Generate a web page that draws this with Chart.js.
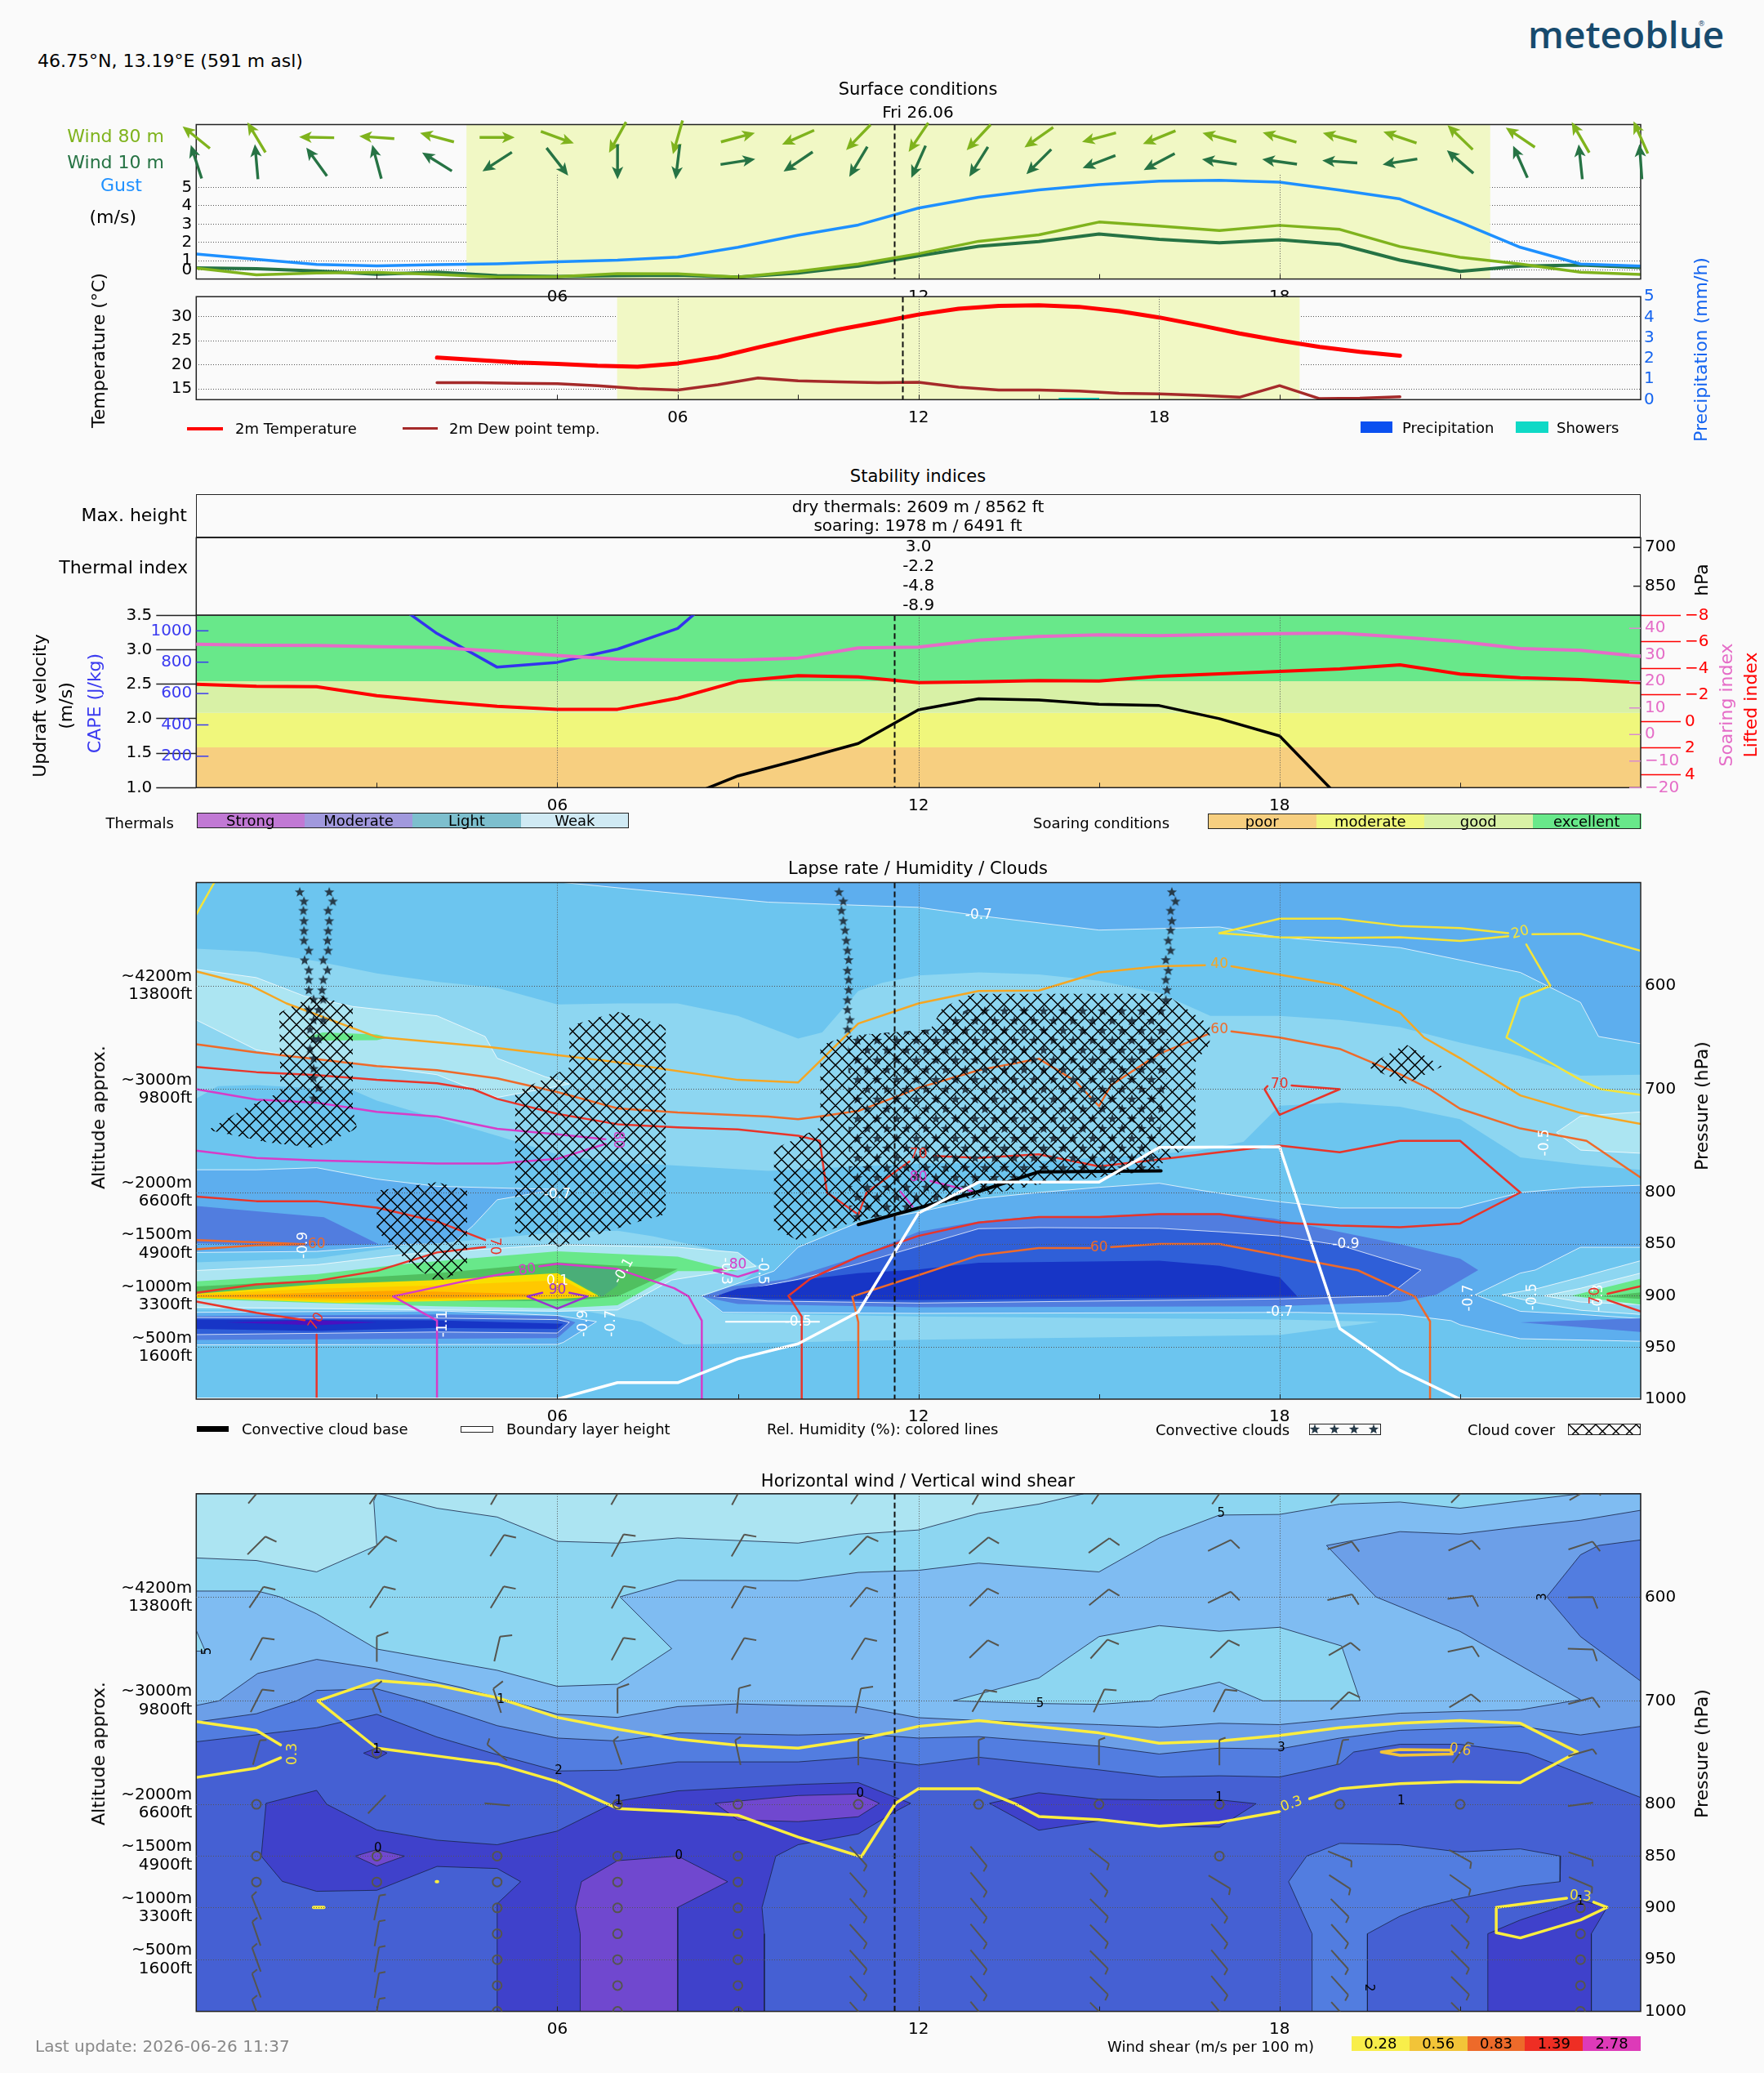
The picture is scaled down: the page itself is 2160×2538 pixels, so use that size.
<!DOCTYPE html>
<html>
<head>
<meta charset="utf-8">
<title>meteoblue</title>
<script src="https://cdn.jsdelivr.net/npm/chart.js@4/dist/chart.umd.min.js"></script>
<style>
  html, body { margin: 0; padding: 0; background: #fafafa; }
  #page { position: relative; width: 2160px; height: 2538px; overflow: hidden; font-family: "DejaVu Sans", sans-serif; }
  #page canvas { position: absolute; left: 0; }
  .txt { position: absolute; white-space: pre; line-height: 1; color: #000; }
  .box { position: absolute; box-sizing: border-box; }
</style>
</head>
<body>
<div id="page"></div>
<script>
// ---- time axis
const hours = [0,1,2,3,4,5,6,7,8,9,10,11,12,13,14,15,16,17,18,19,20,21,22,23,24];
const hourLabels = ['06','12','18'];
const hourValues = [6,12,18];
const hourMarks = [3,6,9,12,15,18,21];
const nowHour = 11.6;
const dayStart = 4.49, dayEnd = 21.5;

// ---- surface conditions
const gust = [1.36,1.07,0.8,0.72,0.78,0.83,0.94,1.03,1.2,1.73,2.39,2.95,3.87,4.46,4.86,5.15,5.34,5.39,5.29,4.85,4.37,3.1,1.73,0.82,0.71];
const wind80 = [0.6,0.23,0.33,0.36,0.25,0.1,0.13,0.29,0.28,0.1,0.42,0.82,1.38,2.06,2.41,3.11,2.89,2.65,2.93,2.71,1.77,1.19,0.82,0.37,0.25];
const wind10 = [0.61,0.56,0.44,0.26,0.37,0.18,0.14,0.18,0.21,0.1,0.33,0.71,1.26,1.79,2.04,2.46,2.17,1.98,2.14,1.89,1.03,0.42,0.71,0.76,0.63];
const wind80Angle = [141,121,179,176,165,0,-20,-119,-106,15,-156,-134,-124,-133,-145,-165,-158,165,164,165,161,136,146,120,114];
const wind10Angle = [108,95,126,105,148,-147,-52,-90,-97,9,-146,-121,-114,-122,-135,-159,-152,172,172,176,-171,139,114,96,94];
const speedTicks = [1,2,3,4,5];
const temperature = [21.5,21,20.5,20.2,19.8,19.6,20.3,21.6,23.6,25.5,27.3,28.8,30.4,31.6,32.2,32.3,32,31.1,29.8,28.2,26.5,25,23.7,22.7,21.9];
const dewPoint = [16.3,16.3,16.2,16.1,15.7,15.1,14.8,15.9,17.3,16.7,16.5,16.3,16.4,15.4,14.8,14.8,14.6,14.1,14,13.7,13.3,15.7,13,13.1,13.4];
const showers = [0,0,0,0,0,0,0,0,0,0,0,0,0,0,0,0,0.08,0,0,0,0,0,0,0,0];
const temperatureTicks = [15,20,25,30];
const precipTicks = [0,1,2,3,4,5];

// ---- stability indices
const thermalValues = ['3.0','-2.2','-4.8','-8.9'];
const thermalLevels = ['700','800','850','900'];
const soaringBandEdges = [1,1.584,2.085,2.544,3.5];
const soaringBandColors = ['#f7cf80','#f0f77c','#d8f1a6','#68e88a'];
const updraft = [null,null,null,null,null,null,null,null,0.82,1.17,1.4,1.64,2.13,2.29,2.27,2.21,2.19,2,1.75,0.85,null,null,null,null,null];
const cape = [null,null,null,1258,983,768,799,883,1015,1348,null,null,null,null,null,null,null,null,null,null,null,null,null,null,null];
const soaringIndex = [34,33.6,33.5,33.1,32.8,31.4,29.8,28.4,28.1,28,28.8,32.6,32.9,35.5,36.9,37.5,37.2,37.7,38,38.2,36.7,35,32.4,31.7,29.4];
const liftedIndex = [-2.81,-2.65,-2.62,-1.94,-1.51,-1.14,-0.92,-0.92,-1.76,-3.03,-3.45,-3.36,-2.93,-2.99,-3.08,-3.05,-3.4,-3.59,-3.77,-3.96,-4.27,-3.57,-3.3,-3.16,-2.93];
const updraftTicks = [1,1.5,2,2.5,3,3.5];
const capeTicks = [200,400,600,800,1000];
const soaringTicks = [-20,-10,0,10,20,30,40];
const liftedTicks = [-8,-6,-4,-2,0,2,4];

// ---- pressure axes shared by the two lower panels
const pressureTicks = [600,700,800,850,900,950,1000];
const altitudeTicks = [600,700,800,850,900,950];
const altitudeLabels = [['~4200m','13800ft'],['~3000m','9800ft'],['~2000m','6600ft'],['~1500m','4900ft'],['~1000m','3300ft'],['~500m','1600ft']];

// ---- lapse rate shading, [hour, hPa]
const lapseTopRight = [[6.1,500],[9.5,519],[12,524],[13,532],[15,546],[17,543],[18,553],[20,563],[22,587],[23,616],[23.3,649],[24,656],[24,500]];
const lapseMidLight = [[0,564],[1,567],[2,576],[3,588],[4,596],[5,602],[6,618],[7,617],[8,617],[9,629],[10,651],[10.4,645],[11,605],[11.4,597],[12,590],[13,587],[14,589],[15,595],[16,607],[16.85,629],[18,629],[19,633],[20,640],[21,655],[22,668],[23,687],[24,686],[24,778],[23,773],[22,766],[21,729],[20,717],[19,713],[18,716],[17.4,751],[16.6,760],[14,770],[12,772],[9.5,779],[6.8,770],[6,763],[5,745],[4,728],[3,711],[2.6,701],[1,696],[0.36,697],[0,709]];
const lapsePaleLeft = [[0,584],[1,592],[1.8,610],[2.6,620],[4,629],[4.8,649],[5,670],[5.8,688],[6.2,695],[5,708],[4.6,700],[4,686],[2.6,675],[1.8,670],[1,662],[0,633]];
const lapsePaleRight = [[24,722],[23,726],[22.6,742],[23,759],[24,762]];
const lapseGreenPatch = [[1.82,650],[2.1,645],[3,647],[3.2,650],[3,652.6],[2.1,653]];
const lapseLeftBlue = [[0,778],[1,778],[2,776],[3,787],[4,794],[5.3,796],[6,797],[5,807],[4.6,832],[4.25,850],[3.6,850],[2,857],[0,858]];
const lapseLeftDeep = [[0,813],[2.12,824],[3.03,850],[1.7,852],[0,849]];
const lapseLensMid = [[0,867.5],[2,863.6],[3.3,853],[6,838.5],[7,837],[7.6,842.5],[8.5,854],[9.4,872],[9,889],[8.4,900],[8.75,917],[12,920],[18,923],[19.65,925],[18,938],[12,942.5],[8.1,947],[7.4,925],[6.4,914],[0,913]];
const lapseLensPale = [[0,875.5],[2,870],[3.5,859.6],[6,850.4],[8,853],[9,858],[9.3,871.5],[7.9,884.7],[7,913.7],[6,915],[4,913.7],[0,911]];
const lapseGreenOuter = [[0,886],[2,879],[3.5,869],[4.5,864],[6,857],[8,862],[8.6,871],[9,876],[8,876],[7,909],[6,912],[4,910],[2,907],[0,903]];
const lapseGreenInner = [[0,891],[2,885],[4,878],[6,867.5],[8,874],[7,900.5],[6.2,905],[4,905],[2,904],[0,900]];
const lapseTeal = [[6,870],[7,874],[7,890],[6.75,900.5],[6.05,879]];
const lapseYellow = [[0,898],[2,889],[4,884.7],[6,878],[6.7,900.5],[6,903],[2.4,907],[0,902]];
const lapseAmber = [[0,898.5],[2,893],[4,890],[6,885],[6.2,888],[6.6,900],[6,902],[2.4,905],[0,901.5]];
const lapseOrange = [[0,900],[3.3,895],[5.5,898],[5.8,900.5],[3,903],[0,901]];
const lapseLowBlue = [[0,916],[4,914.5],[6,919],[6.65,925],[6.1,945],[6,947],[0,947.5]];
const lapseLowDeep = [[0,919.5],[4,918],[6,919.5],[6.3,925.6],[6,941],[0,942.7]];
const lapseLowRoyal = [[0,921],[4,921.6],[6,923],[6.2,925.6],[6,936],[4,935],[0,937.5]];
const lapseLowNavy = [[0,923],[4,923.7],[6.1,927],[6,932],[4,931],[2,934],[0,932]];
const lapseLowViolet = [[0.5,925.6],[2,923.7],[3,925.6],[2,928.5]];
const lapseMainBlue = [[8.4,900],[9.6,876],[10,853],[11,829],[12,819],[13,806],[14,800],[15,795],[16,791],[16.7,798],[17.6,806],[18,809],[19,815],[21,815],[22,800],[23,795],[24,793],[24,853],[23,853],[22.25,875],[22,878],[21.25,899],[22,915],[23,918],[24,922],[24,944],[22,941.5],[21,928],[20.85,924],[20,918],[18.3,916],[12,917],[8.75,916]];
const lapseMainDeep = [[8.4,900.7],[8.9,891],[9.8,884],[11,862],[12,838],[13,828],[14,823],[15,823],[16,820],[17,820],[17.9,825],[18.9,837],[20,850],[21,864],[21.3,875],[20.6,899],[20,906],[17.9,910],[12,911],[9,908]];
const lapseMainRoyal = [[8.6,900.7],[9,895],[10,884],[11,869],[12,852],[13,835],[14,834],[16,834.6],[17,838],[18,842],[19,851],[20.35,875],[19.8,900],[18,903],[12,907],[9.5,905]];
const lapseMainNavy = [[8.6,900.7],[9,893],[9.5,890],[10,885],[11,878],[12,874.5],[13,868],[16,866],[17,871],[18,882],[18.3,900.7],[12,904],[9.5,903]];
const lapseTipMid = [[24,866],[23,882],[22.3,892.7],[21.7,899],[22.3,907],[23,914],[24,918]];
const lapseTipPale = [[24,878],[23,892.7],[22.4,900],[23,906],[24,908.5]];
const lapseTipGreen = [[24,883.4],[22.85,900],[24,908.5]];
const lapseTipGreenInner = [[24,896.7],[23.35,900.7],[24,903]];
const lapseStripDeep = [[22,925.7],[24,921.7],[24,935]];

// ---- cloud regions, [hour, hPa]
const cloudPatchA = [[2,608],[2.6,621],[2.6,719],[2.67,738],[2,757],[1.2,751.6],[0.2,739.6],[0.8,718.6],[1.4,702.8],[1.38,626]];
const cloudPatchB = [[7,625],[7.8,639],[7.8,821],[7.3,829],[6,853],[5.3,838],[5.3,703],[6.2,679],[6.2,639]];
const cloudPatchC = [[4,790],[4.5,798],[4.5,874],[4,887],[3.5,866],[3,837],[3,798],[3.45,795]];
const cloudPatchD = [[10.37,658],[10.8,648.6],[12.2,642],[12.4,621],[12.9,607.7],[16.1,607.7],[16.84,638],[16.84,656.5],[16.6,673.7],[16.6,750],[15.87,779],[14,792],[11,827],[10,846.5],[9.6,834.6],[9.6,758],[10.37,737]];
const cloudPatchE = [[20.1,656.5],[20.7,678],[20.1,694.6],[19.44,678]];
const convectiveBlock = [[12.9,620],[16.15,620],[16.15,680],[16,750],[16,778],[14,778],[13,797],[11,829],[10.85,829],[10.83,648],[12.2,642]];
const convectiveStars = [
  [1.72,509],[1.79,518],[1.78,527],[1.79,537],[1.79,546.6],[1.79,556],[1.87,565.6],[1.8,575],[1.87,584.6],[1.87,594],[1.87,604],[1.95,613],[1.87,623],[1.95,633],[1.89,642],[1.95,651.3],[1.89,660.6],[1.95,670],[1.95,680],[1.95,689],[2.03,698.8],[1.95,708.6],
  [2.21,509],[2.27,518],[2.19,527],[2.21,537],[2.19,546.6],[2.18,556],[2.19,565.6],[2.11,575],[2.18,584.6],[2.11,594],[2.09,604],[2.11,613],[2.03,623],[2.11,633],[2.03,651.3],
  [10.68,509],[10.75,518],[10.72,527],[10.75,537],[10.78,546],[10.8,556],[10.82,565.6],[10.84,574.7],[10.82,585],[10.84,594],[10.84,603.8],[10.82,613.6],[10.82,623],[10.86,632.8],[10.82,642],
  [16.21,509],[16.27,518],[16.19,527],[16.21,537],[16.19,546],[16.15,556],[16.19,565.6],[16.11,574.7],[16.15,585],[16.11,594],[16.13,603.8],[16.11,613.6]
];

// ---- relative humidity contours, [hour, hPa]
const rh20a = [[0,531],[0.3,500]];
const rh20b = [[17,549],[18,535],[19,535],[20,542],[21,544],[21.8,549]];
const rh20c = [[21.8,552],[21,556.5],[20,553],[19,553.6],[18,553],[17,549]];
const rh20d = [[22.2,550],[23,549.6],[24,566]];
const rh20e = [[22.1,560],[22.5,600],[22,611.8],[21.77,650],[23,691],[23.34,700],[24,705.5]];
const rh40a = [[0,586],[0.88,599],[1.5,617],[3,649.5],[4.85,659],[7,674],[9,691],[10,693.5],[11,636.5],[12,617],[13,605],[14,604.5],[15,587],[16,581],[16.76,580]];
const rh40b = [[17.2,581],[19,599.4],[20,626],[20.4,650],[21,670],[22,706],[23,723],[24,733.6]];
const rh50a = [[0,656.6],[1,664.5],[2,671],[3,677.7],[4,681.6],[5,689.6],[6,702.8],[7,718.6],[8,722.6],[9.5,726.5],[10,729],[10.4,726],[11,721],[11.6,708],[12,698.7],[13,681.6],[14,670.5],[14.6,692],[15,716.4],[15.2,696],[16,665.7],[16.8,647]];
const rh50b = [[17.2,644],[18,650],[19,661],[20,685.5],[20.5,700],[21,719],[22,738],[23.1,750],[24,785.5]];
const rh50c = [[0,846],[1.8,850],[1,851],[0,855]];
const rh50d = [[11,1000],[11,925.4],[10.9,900.7],[12,880],[13,860.8],[14,853.8],[14.85,853.8]];
const rh50e = [[15.2,852.8],[16,849.8],[17,849.8],[18,860.8],[19.3,875.3],[20.25,900.7],[20.5,924.7],[20.5,1000]];
const rh70a = [[0,678.5],[1,683.5],[2,686.4],[3,691],[4,694.3],[4.6,700],[5,709.4],[6,723.9],[7,733.9],[8,737],[9,739],[10,745],[10.36,750],[10.48,800],[11,821.4],[11.14,800],[11.85,770]];
const rh70b = [[12.25,764.7],[13,766.5],[14,763],[15,774.7],[16,768],[17.6,757],[18,754.6],[19,761],[20,750],[21,750],[22,800],[21,830],[20,833.5],[19,832],[18,829],[17,821],[16,821],[15,823.7],[14,823.7],[13,829],[12,842],[11,862],[10.2,883.6],[9.84,900],[10.06,920],[10.06,1000]];
const rh70c = [[0,804],[1,808.4],[2,808.4],[3,814.6],[4,828],[4.8,846]];
const rh70d = [[4.8,852.8],[4,858],[3,876],[2,885.5],[1,889],[0,897]];
const rh70e = [[0,905.5],[1,916.4],[1.8,923.6]];
const rh70f = [[2,937.5],[2,1000]];
const rh70g = [[18.2,696.4],[19,700],[18,724.8],[17.75,700],[17.8,697]];
const rh70h = [[23.45,898],[24,890.6]];
const rh70i = [[23.45,904],[24,915]];
const rh80a = [[0,700],[1,710],[2,713],[3,722],[4,726.5],[5,738.4],[6,743.6],[6.8,748.4]];
const rh80b = [[6.8,753],[6,767.4],[5,772],[4,772],[2,769],[1,766.6],[0,759.5]];
const rh80c = [[5.27,876.8],[4.55,884.7],[3.27,900.5],[4,924],[4,1000]];
const rh80d = [[5.7,871.5],[6,868.9],[7,874],[7.94,892.6],[8.18,900.5],[8.4,924],[8.4,1000]];
const rh80e = [[8.8,874],[8.6,875.5],[9,881.5],[9.33,875.5]];
const rh80f = [[12.2,789],[12.9,799]];
const rh80g = [[11.7,799],[11.9,813.5]];
const rh90 = [[5.75,897],[5.5,900.5],[6,912.4],[6.5,900.5],[6.2,897]];
const boundaryLayer = [[0,1000],[6,1000],[7,984],[8,984],[9,961],[10,946.5],[11,915.6],[12,820],[13,790],[15,790],[16,756.4],[18,755.7],[19,931.6],[20,972],[21,1000],[24,1000]];
const cloudBase = [[11,831],[13,799],[14,780],[16.03,779]];
const lapseIsoline = [[8.8,925],[10.35,925]];

// ---- wind shear panel shading, [hour, hPa]
const windSpeedBandA = [[0,739.6],[2,726],[3,713],[4,735],[5,752],[6,767.8],[7,767],[8,759],[9,759],[10,759],[11,754.5],[12,762],[13,754.5],[15,766.7],[16,773.6],[17,772.4],[18,773.6],[19,761],[19.23,749.5],[20,742],[21,742],[22.12,750.7],[24,793.4],[24,500],[0,500]];
const windSpeedBandB = [[0,720.5],[1,712.5],[1.67,700],[2,690],[3,688.5],[3.73,700],[5,724],[6,736],[7,738.8],[8,731],[10,733],[11,731.7],[12,736],[13,734.6],[15,743.8],[16,751.4],[17,745.7],[18,746.5],[19,736],[20,728.5],[21,726.6],[22,724.7],[23,733],[24,724.7],[24,500],[0,500]];
const windSpeedBandC = [[0,704.5],[0.38,700],[1.02,673.6],[2,660],[3,669],[4.39,687],[6,713],[7,716],[8,705.6],[9,703],[10,704.5],[11,705.6],[12,716.3],[13,719],[15,723],[16,725.5],[17,721.7],[18,723],[20,712],[22,708.7],[23,698.8],[21,633],[19.6,599.6],[18.78,550],[20,536.6],[21,539],[22,532],[23,525.6],[24,516],[24,500],[0,500]];
const windSpeedCorner = [[24,544.6],[23.3,550],[23,559],[22.44,599.6],[23,638],[24,681]];
const windSpeedBandD = [[0,594],[1.02,594],[1.39,599.6],[2,616],[3,650],[5,670.5],[6,686],[7,684],[7.9,649.6],[7.04,599.6],[8,583.6],[10,584],[11,576],[12,574],[13,567],[15,575.5],[16,542.7],[17,520.6],[18,520],[19,510],[20,508],[21,514],[23,500],[0,500]];
const windSpeedWedge = [[0,632],[0.15,652],[0,652]];
const windSpeedIsland = [[12.58,700],[14,678],[15,638],[16,627.4],[17,632.8],[18,629],[19.03,647],[19.34,700],[17.72,700],[17,682],[16,695],[15.87,700],[15,703.4],[13.96,702.6]];
const windSpeedTopLeft = [[0,500],[0,562],[1,564.5],[2,575.5],[3,550],[2.95,507],[3,500]];
const windSpeedTopRight = [[3.05,500],[4,514],[5,522.5],[6,546],[7,547.7],[8,542.7],[10,547.7],[11,539],[12,535],[13,519],[14,510],[14.74,500]];
const windCalmMain = [[1.16,799],[2,786.5],[2.17,800],[3,824.7],[4,834.6],[5,839],[6,825.8],[7,797],[8,787],[10,780.8],[11,779],[11.62,793.4],[11.87,799],[11.62,806.8],[11,828.5],[10,839],[9.63,850],[9.4,899.5],[9.44,925],[9.44,1000],[5,1000],[5,896],[5.39,874.7],[5,862],[4,860],[3,883],[2,884],[1.43,874.4],[1.08,850]];
const windCalmMid = [[13.18,799],[14,788.8],[15,795],[16,795.7],[17,795.7],[17.61,799.4],[17,822],[16,821],[15,816],[14,825]];
const windCalmDot = [[2.78,750.5],[3,745.7],[3.17,750.5],[3,756]];
const windCalmRight = [[21.46,1000],[21.46,925],[22,911.7],[23,892.6],[23.44,899.5],[23.18,925],[23.18,1000]];
const windRiseRight = [[19,837.7],[20,839],[21,846],[22,843],[22.67,850],[22.66,874.7],[22,879],[21,890.7],[20.38,899.5],[20,908],[19.46,925],[19.46,1000],[18.54,1000],[18.54,925],[18.15,874.7],[18.45,850]];
const windStillA = [[8.62,799],[10,791.5],[11,790],[11.35,799],[11,812],[10,816.7],[9,815]];
const windStillB = [[2.64,850],[3,843.8],[3.46,850],[3,859.6]];
const windStillC = [[6.38,1000],[6.38,925],[6.3,899.5],[6.4,874.7],[7,854.4],[8,850],[8.83,874.7],[8,899.5],[8,1000]];

// ---- shear isolines, [hour, hPa]
const shearLeftUpper = [[0,720],[1,728.5],[1.4,742.6]];
const shearLeftLower = [[1.4,755],[1,765],[0,774]];
const shearUpper = [[2.02,700],[3,680.5],[4,685],[5,697],[6,716],[7,727.4],[8,737],[9,743],[10,745.7],[11,737],[11.62,729.7],[12,724.7],[13,719],[15,731],[16,741],[17,738.8],[18,733.5],[19,726],[20,721.7],[21,719],[22,721.7],[22.95,749.5],[22,779],[21,778],[20,780],[19,785],[18.5,794.5]];
const shearLower = [[18,807],[17,817.4],[16,821],[15,814.8],[14,811.7],[13.59,799],[13,785],[12,785],[11.62,799],[11.05,850.6],[10,831.6],[9,810.6],[8,806.8],[7,804],[6,778],[5,761],[4,753.3],[3,745.7],[2.02,700]];
const shearLoop = [[22.77,890.7],[21.6,899.5],[21.6,924],[22,929],[23,911.7],[23.44,899.5],[23.22,894.5]];
const shearStrong = [[19.69,749.5],[20,747],[20.84,747.6],[20.87,751.4],[20,752.6],[19.69,749.5]];
const shearDotA = [[1.95,899.5],[2.12,899.5]];
const shearDotB = [[3.99,874.7],[4.01,874.7]];

// ---- wind barbs: screen direction of each staff per level, null where calm
const barbHours = [1,3,5,7,9,11,13,15,17,19,21,23];
const barbLevels = [500,550,600,650,700,750,800,850,875,900,925,950,975,1000];
const barbSpeeds = [10,10,10,10,10,5,2,5,5,5,5,5,5,5];
const barbH1 = [50,45,56,62,63,74,null,null,null,112,109,110,110,110];
const barbH3 = [55,46,57,90,110,null,46,null,null,78,80,80,80,80];
const barbH5 = [60,57,59,77,108,141,175,null,null,null,null,null,null,null];
const barbH7 = [60,62,62,62,90,109,null,null,null,null,null,null,null,null];
const barbH9 = [62,60,60,60,85,102,null,null,null,null,null,null,null,null];
const barbH11 = [55,46,50,58,78,90,null,-48,-48,-48,-48,-48,-48,-48];
const barbH13 = [60,40,44,44,60,90,null,-50,-50,-50,-50,-50,-50,-50];
const barbH15 = [55,35,39,48,65,90,null,-38,-47,-45,-45,-45,-45,-45];
const barbH17 = [55,26,26,44,63,90,null,null,-31,-50,-50,-50,-50,-50];
const barbH19 = [45,17,13,30,44,77,null,-22,-33,-45,-48,-48,-48,-48];
const barbH21 = [45,23,7,12,31,54,null,-29,-35,-45,-45,-45,-45,-45];
const barbH23 = [30,18,1,-2,15,16,8,-18,-23,null,null,null,null,null];
const barbColumns = [barbH1,barbH3,barbH5,barbH7,barbH9,barbH11,barbH13,barbH15,barbH17,barbH19,barbH21,barbH23];

// ---- contour labels: hour, hPa, text
const lapseWhiteLabels = [[1.78,851,'-0.9',-90],[4.1,927,'-1.1',-90],[6,885.5,'0.1',0],[7.1,876,'-0.1',-60],[6.43,926.6,'-0.9',-90],[6.9,926.6,'-0.7',-90],[8.8,876,'-0.3',90],[9.4,876,'-0.5',90],[10,925,'-0.5',0],[6,802,'-0.7',0],[13,532,'-0.7',0],[19.1,850,'-0.9',0],[18,916,'-0.7',0],[21.15,902,'-0.7',-90],[22.2,901,'-0.5',-90],[22.4,751.7,'-0.5',-90],[23.3,902,'-0.3',-90]];
const rhLabels = [[22,548.5,'20',-15,'#f4e43a'],[17,579,'40',0,'#f5a623'],[17,642.7,'60',0,'#ee6a2a'],[15,853.5,'60',0,'#ee6a2a'],[2,850,'60',0,'#ee6a2a'],[18,695,'70',0,'#e8352a'],[4.96,852,'70',90,'#e8352a'],[2,925,'70',-60,'#e8352a'],[12,763,'70',0,'#e8352a'],[23.25,900,'70',-90,'#e8352a'],[5.5,875,'80',-10,'#d63cc8'],[9,870,'80',0,'#d63cc8'],[7,749,'80',90,'#d63cc8'],[12,785.8,'80',0,'#d63cc8'],[6,894.5,'90',0,'#9b30d0']];
const speedLabels = [[0.19,652,'5',-90],[3,747,'1',0],[6.02,768,'2',0],[5.06,699,'1',0],[7.02,797,'1',0],[3.02,843,'0',0],[8.02,849.5,'0',0],[11.03,790,'0',0],[17.03,519.5,'5',0],[14.02,703,'5',0],[22.37,599.6,'3',-90],[18.03,745.7,'3',0],[17,793.4,'1',0],[20.02,796.5,'1',0],[23,894,'1',0],[19.48,977,'2',90]];
const shearLabels = [[1.6,751.4,'0.3',-90,'#f4e43a'],[18.2,800,'0.3',-20,'#f4e43a'],[23,889,'0.3',5,'#f4e43a'],[21,747.6,'0.6',10,'#f2c438']];

// ---- legend cells
const thermalClasses = ['Strong','Moderate','Light','Weak'];
const thermalClassColors = ['#c179d4','#a199dd','#7dbfce','#d0eaf4'];
const soaringClasses = ['poor','moderate','good','excellent'];
const shearClasses = ['0.28','0.56','0.83','1.39','2.78'];
const shearClassColors = ['#f8ee4a','#f2c438','#ed6a2a','#ee2e24','#dd3ab8'];

// ---- helpers
const FONT = '"DejaVu Sans", sans-serif';
const PLOT_LEFT = 240.3, PLOT_RIGHT = 2009;
const page = document.getElementById('page');

function text(str, x, y, opt) {
  opt = opt || {};
  const el = document.createElement('div');
  el.className = 'txt';
  el.textContent = str;
  const ax = opt.anchor === 'r' ? '-100%' : opt.anchor === 'c' ? '-50%' : '0';
  el.style.left = x + 'px';
  el.style.top = y + 'px';
  el.style.fontSize = (opt.size || 20) + 'px';
  if (opt.color) el.style.color = opt.color;
  if (opt.font) el.style.fontFamily = opt.font;
  if (opt.weight) el.style.fontWeight = opt.weight;
  el.style.transform = opt.rot ? 'translate(-50%,-50%) rotate(' + opt.rot + 'deg)' : 'translate(' + ax + ',-50%)';
  page.appendChild(el);
}

function box(x, y, w, h, css) {
  const el = document.createElement('div');
  el.className = 'box';
  el.style.left = x + 'px';
  el.style.top = y + 'px';
  el.style.width = w + 'px';
  el.style.height = h + 'px';
  Object.assign(el.style, css || {});
  page.appendChild(el);
}

function cellLegend(x, y, w, h, labels, colors, size, border) {
  const cw = w / labels.length;
  labels.forEach((l, i) => {
    box(x + i * cw, y, cw + 0.5, h, {background: colors[i]});
    text(l, x + (i + 0.5) * cw, y + h / 2, {anchor: 'c', size: size});
  });
  if (border) box(x, y, w, h, {border: '1.5px solid #222'});
}

const pts = line => line.map(p => ({x: p[0], y: p[1]}));
const series = values => values.map((v, i) => ({x: hours[i], y: v}));

function area(poly, color, edge, axis) {
  return {type: 'line', data: pts(poly.concat([poly[0]])), fill: 'shape', backgroundColor: color,
    borderColor: edge || 'rgba(0,0,0,0)', borderWidth: edge ? 1 : 0, pointRadius: 0, tension: 0, yAxisID: axis || 'yL'};
}

function stroke(line, color, width, axis) {
  return {type: 'line', data: pts(line), fill: false, borderColor: color, borderWidth: width, pointRadius: 0,
    tension: 0, borderJoinStyle: 'round', borderCapStyle: 'round', yAxisID: axis || 'yL'};
}

// first entry is painted first
function painted(list) {
  list.forEach((d, i) => { d.order = list.length - i; });
  return list;
}

function xAxis(showLabels) {
  return {
    type: 'linear', min: 0, max: 24,
    afterBuildTicks: s => { s.ticks = hourValues.map(v => ({value: v})); },
    afterFit: s => { s.height = 40; },
    grid: {display: false}, border: {display: false},
    ticks: {display: showLabels, autoSkip: false, maxRotation: 0, padding: 2, color: '#000', font: {family: FONT, size: 20},
      callback: v => hourLabels[hourValues.indexOf(v)]}
  };
}

function yAxis(side, min, max, tickList, o) {
  o = o || {};
  const width = side === 'left' ? PLOT_LEFT : 2160 - PLOT_RIGHT;
  const gridLines = !!o.grid;
  const longTicks = !!o.tickLength;
  return {
    type: 'linear', position: side, min: min, max: max, reverse: !!o.reverse,
    afterBuildTicks: s => { s.ticks = tickList.map(v => ({value: v})); },
    afterFit: s => { s.width = width; },
    border: {display: false, dash: gridLines ? [1, 2] : undefined},
    grid: {
      display: gridLines || longTicks, drawOnChartArea: gridLines, drawTicks: longTicks, tickLength: o.tickLength || 0,
      color: gridLines ? '#555' : (o.tickColor || '#222'), lineWidth: 1, z: o.gridOnTop ? 1 : 0,
      tickColor: o.tickColor || '#222', tickWidth: 1.5
    },
    ticks: {
      display: !o.noLabels, autoSkip: false, padding: o.padding === undefined ? 5 : o.padding, color: o.color || '#000',
      font: {family: FONT, size: o.size || 20, lineHeight: 1.12},
      callback: o.format || (v => String(v))
    }
  };
}

// grid, time marker, frame and short inward ticks
const panelDecor = {
  id: 'panelDecor',
  afterDatasetsDraw(chart, args, o) {
    const {ctx, chartArea: a, scales} = chart;
    const xs = scales.x;
    ctx.save();
    if (o.hourGrid) {
      const top = o.gridFrom !== undefined ? scales.yL.getPixelForValue(o.gridFrom) : a.top;
      ctx.strokeStyle = '#555';
      ctx.lineWidth = 1;
      ctx.setLineDash([1, 2]);
      hourValues.forEach(h => {
        const x = Math.round(xs.getPixelForValue(h)) + 0.5;
        ctx.beginPath(); ctx.moveTo(x, top); ctx.lineTo(x, a.bottom); ctx.stroke();
      });
      ctx.setLineDash([]);
      ctx.strokeStyle = '#222';
      hourMarks.forEach(h => {
        const x = Math.round(xs.getPixelForValue(h)) + 0.5;
        ctx.beginPath(); ctx.moveTo(x, a.bottom); ctx.lineTo(x, a.bottom - 6); ctx.stroke();
      });
    }
    (o.innerTicks || []).forEach(t => {
      const s = scales[t.scale];
      ctx.strokeStyle = t.color;
      ctx.lineWidth = 1.5;
      s.ticks.forEach((tick, i) => {
        const y = s.getPixelForTick(i);
        const x0 = s.position === 'left' ? a.left : a.right;
        const x1 = s.position === 'left' ? a.left + t.length : a.right - t.length;
        ctx.beginPath(); ctx.moveTo(x0, y); ctx.lineTo(x1, y); ctx.stroke();
      });
    });
    if (o.nowLine) {
      const x = Math.round(xs.getPixelForValue(nowHour)) + 0.5;
      ctx.strokeStyle = '#111';
      ctx.lineWidth = 2;
      ctx.setLineDash([7, 4]);
      ctx.beginPath(); ctx.moveTo(x, o.nowFrom === undefined ? a.top : o.nowFrom); ctx.lineTo(x, a.bottom); ctx.stroke();
      ctx.setLineDash([]);
    }
    if (o.frame !== false) {
      ctx.strokeStyle = '#222';
      ctx.lineWidth = 1.5;
      ctx.strokeRect(a.left, a.top, a.right - a.left, a.bottom - a.top);
    }
    ctx.restore();
  }
};

// wind arrows above the speed lines
const windArrows = {
  id: 'windArrows',
  afterDraw(chart) {
    const {ctx, scales} = chart;
    const rows = [[wind80Angle, 7.73, '#7fb31d'], [wind10Angle, 6.4, '#267344']];
    rows.forEach(([angles, level, color]) => {
      angles.forEach((deg, i) => {
        const x = scales.x.getPixelForValue(hours[i]);
        const y = scales.yL.getPixelForValue(level);
        const r = deg * Math.PI / 180;
        ctx.save();
        ctx.translate(x, y);
        ctx.rotate(-r);
        ctx.fillStyle = color;
        ctx.beginPath();
        ctx.moveTo(-21.5, -1.7);
        ctx.lineTo(9, -1.7);
        ctx.lineTo(6, -7);
        ctx.lineTo(21.5, 0);
        ctx.lineTo(6, 7);
        ctx.lineTo(9, 1.7);
        ctx.lineTo(-21.5, 1.7);
        ctx.closePath();
        ctx.fill();
        ctx.restore();
      });
    });
  }
};

// wind barbs on the hour/pressure grid
const windBarbs = {
  id: 'windBarbs',
  afterDatasetsDraw(chart) {
    const {ctx, chartArea: a, scales} = chart;
    ctx.save();
    ctx.beginPath();
    ctx.rect(a.left, a.top, a.right - a.left, a.bottom - a.top);
    ctx.clip();
    ctx.strokeStyle = '#55554f';
    ctx.lineWidth = 2;
    barbColumns.forEach((col, c) => {
      col.forEach((deg, l) => {
        const x = scales.x.getPixelForValue(barbHours[c]);
        const y = scales.yL.getPixelForValue(barbLevels[l]);
        ctx.beginPath();
        if (deg === null) {
          ctx.arc(x, y, 5.5, 0, 2 * Math.PI);
        } else {
          const r = deg * Math.PI / 180;
          const dx = Math.cos(r), dy = -Math.sin(r);
          ctx.moveTo(x - 15.5 * dx, y - 15.5 * dy);
          ctx.lineTo(x + 15.5 * dx, y + 15.5 * dy);
          const speed = barbSpeeds[l];
          if (speed >= 5) {
            const len = speed >= 10 ? 15 : 8;
            const f = r - 70 * Math.PI / 180;
            ctx.moveTo(x + 15.5 * dx, y + 15.5 * dy);
            ctx.lineTo(x + 15.5 * dx + len * Math.cos(f), y + 15.5 * dy - len * Math.sin(f));
          }
        }
        ctx.stroke();
      });
    });
    ctx.restore();
  }
};

// text set on contour lines
const contourText = {
  id: 'contourText',
  afterDraw(chart, args, o) {
    const {ctx, scales} = chart;
    ctx.save();
    ctx.textAlign = 'center';
    ctx.textBaseline = 'middle';
    (o.sets || []).forEach(set => {
      ctx.font = (set.size || 17) + 'px ' + FONT;
      set.items.forEach(it => {
        ctx.save();
        ctx.translate(scales.x.getPixelForValue(it[0]), scales.yL.getPixelForValue(it[1]));
        ctx.rotate((it[3] || 0) * Math.PI / 180);
        ctx.fillStyle = it[4] || set.color;
        ctx.fillText(it[2], 0, 0);
        ctx.restore();
      });
    });
    ctx.restore();
  }
};

// values of the thermal index row
const thermalText = {
  id: 'thermalText',
  afterDraw(chart) {
    const {ctx, scales} = chart;
    ctx.save();
    ctx.font = '20px ' + FONT;
    ctx.fillStyle = '#000';
    ctx.textAlign = 'center';
    ctx.textBaseline = 'middle';
    thermalValues.forEach((v, i) => ctx.fillText(v, scales.x.getPixelForValue(12), scales.yR.getPixelForValue(i)));
    ctx.restore();
  }
};

function panel(top, bottom, config) {
  const canvasTop = Math.floor(top) - 40;
  const c = document.createElement('canvas');
  const h = Math.ceil(bottom - canvasTop + 40);
  c.width = 2160;
  c.height = h;
  c.style.top = canvasTop + 'px';
  c.style.width = '2160px';
  c.style.height = h + 'px';
  page.appendChild(c);
  config.options = Object.assign({
    responsive: false, animation: false, devicePixelRatio: 1, events: [],
    layout: {padding: {top: top - canvasTop, bottom: h - 40 - (bottom - canvasTop), left: 0, right: 0}}
  }, config.options);
  config.options.plugins = Object.assign({legend: {display: false}, tooltip: {enabled: false}}, config.options.plugins);
  return new Chart(c, config);
}

// fill textures
function hatchTile() {
  const t = document.createElement('canvas');
  t.width = 33; t.height = 33;
  const g = t.getContext('2d');
  g.strokeStyle = '#000';
  g.lineWidth = 1.5;
  [[-16.5, 0], [0, 0], [16.5, 0], [33, 0]].forEach(([dx]) => {
    g.beginPath(); g.moveTo(dx, 0); g.lineTo(dx + 33, 33); g.stroke();
    g.beginPath(); g.moveTo(dx + 33, 0); g.lineTo(dx, 33); g.stroke();
  });
  return t;
}

function starPath(g, cx, cy, r) {
  g.beginPath();
  for (let i = 0; i < 10; i++) {
    const rad = i % 2 ? r * 0.42 : r;
    const a = -Math.PI / 2 + i * Math.PI / 5;
    g.lineTo(cx + rad * Math.cos(a), cy + rad * Math.sin(a));
  }
  g.closePath();
  g.fill();
}

function starTile() {
  const t = document.createElement('canvas');
  t.width = 24; t.height = 24;
  const g = t.getContext('2d');
  g.fillStyle = '#263a48';
  starPath(g, 6, 6, 6.5);
  starPath(g, 18, 18, 6.5);
  return t;
}

function starMark() {
  const t = document.createElement('canvas');
  t.width = 14; t.height = 14;
  const g = t.getContext('2d');
  g.fillStyle = '#263a48';
  starPath(g, 7, 7.5, 6.5);
  return t;
}

const hatchCanvas = hatchTile();
const starCanvas = starTile();
const tileCtx = document.createElement('canvas').getContext('2d');
const hatchFill = tileCtx.createPattern(hatchCanvas, 'repeat');
const starFill = tileCtx.createPattern(starCanvas, 'repeat');

// ---- surface conditions: wind
const daylight = (axis, lo, hi) => area([[dayStart, lo], [dayEnd, lo], [dayEnd, hi], [dayStart, hi]], '#f1f8c5', null, axis);
panel(152.5, 341.6, {
  data: {datasets: painted([
    daylight('yL', 0, 8.43),
    stroke(hours.map((h, i) => [h, wind10[i]]), '#267344', 4),
    stroke(hours.map((h, i) => [h, wind80[i]]), '#7fb31d', 3.5),
    stroke(hours.map((h, i) => [h, gust[i]]), '#1e90ff', 3.5)
  ])},
  options: {
    scales: {
      x: xAxis(true),
      yL: yAxis('left', 0, 8.43, speedTicks.concat([0.5]), {grid: true, format: v => v === 0.5 ? '0' : String(v)}),
      yR: yAxis('right', 0, 1, [], {noLabels: true})
    },
    plugins: {panelDecor: {hourGrid: true, gridFrom: 5.68, nowLine: true}}
  },
  plugins: [panelDecor, windArrows]
});

// ---- surface conditions: temperature and precipitation
panel(363.2, 489.3, {
  data: {datasets: painted([
    daylight('yL', 12.8, 34.1),
    {type: 'bar', data: series(showers), backgroundColor: '#0fd9c6', barThickness: 49, yAxisID: 'yR'},
    stroke(hours.map((h, i) => [h, dewPoint[i]]), '#a52a2a', 3.5),
    stroke(hours.map((h, i) => [h, temperature[i]]), '#ff0000', 5)
  ])},
  options: {
    scales: {
      x: xAxis(true),
      yL: yAxis('left', 12.8, 34.1, temperatureTicks, {grid: true}),
      yR: yAxis('right', 0, 5, precipTicks, {color: '#1464f0', padding: 4})
    },
    plugins: {panelDecor: {hourGrid: true, nowLine: true}}
  },
  plugins: [panelDecor]
});

// ---- stability indices: thermal index row
panel(658.3, 753.3, {
  data: {datasets: []},
  options: {
    scales: {
      x: Object.assign(xAxis(false), {}),
      yL: {type: 'category', labels: thermalLevels, position: 'left', offset: true, afterFit: s => { s.width = PLOT_LEFT; },
        ticks: {display: false}, grid: {display: false}, border: {display: false}},
      yR: {type: 'category', labels: thermalLevels, position: 'right', offset: true, afterFit: s => { s.width = 2160 - PLOT_RIGHT; },
        ticks: {padding: 5, color: '#000', font: {family: FONT, size: 20}}, grid: {display: false, drawTicks: false}, border: {display: false}}
    },
    plugins: {panelDecor: {innerTicks: [{scale: 'yR', length: 9, color: '#222'}]}}
  },
  plugins: [panelDecor, thermalText]
});

// ---- stability indices: soaring bands, updraft and lifted index
const bandAreas = soaringBandColors.map((col, i) => area([[0, soaringBandEdges[i]], [24, soaringBandEdges[i]], [24, soaringBandEdges[i + 1]], [0, soaringBandEdges[i + 1]]], col));
panel(753.3, 964.3, {
  data: {datasets: painted(bandAreas.concat([
    stroke(hours.map((h, i) => [h, updraft[i]]), '#000', 3.5),
    stroke(hours.map((h, i) => [h, liftedIndex[i]]), '#ff0000', 4, 'yR')
  ]))},
  options: {
    scales: {
      x: xAxis(true),
      yL: yAxis('left', 1, 3.5, updraftTicks, {tickLength: 49, format: v => v.toFixed(1)}),
      yR: yAxis('right', -8, 4.98, liftedTicks, {reverse: true, tickLength: 49, tickColor: '#ff0000', color: '#ff0000', format: v => String(v).replace('-', '\u2212')})
    },
    plugins: {panelDecor: {hourGrid: true, nowLine: true}}
  },
  plugins: [panelDecor]
});

// ---- stability indices: CAPE and soaring index on their own axes
panel(753.3, 964.3, {
  data: {datasets: painted([
    stroke(hours.map((h, i) => [h, cape[i]]), '#3333ee', 3.5),
    stroke(hours.map((h, i) => [h, soaringIndex[i]]), '#e56cc7', 4, 'yR')
  ])},
  options: {
    scales: {
      x: xAxis(false),
      yL: yAxis('left', 0, 1099, capeTicks, {color: '#3b3bf0'}),
      yR: yAxis('right', -20, 44.9, soaringTicks, {color: '#e56cc7', format: v => String(v).replace('-', '\u2212')})
    },
    plugins: {panelDecor: {frame: false, innerTicks: [{scale: 'yL', length: 15, color: '#3b3bf0'}, {scale: 'yR', length: 14, color: '#d98ad0'}]}}
  },
  plugins: [panelDecor]
});

// ---- lapse rate, humidity, clouds
const WHITE_EDGE = 'rgba(255,255,255,0.75)';
const starMarkCanvas = starMark();
panel(1080.5, 1713, {
  data: {datasets: painted([
    area([[0,500],[24,500],[24,1000],[0,1000]], '#6cc5ef'),
    area(lapseTopRight, '#5daeee', WHITE_EDGE),
    area(lapseMidLight, '#8dd6f1'),
    area(lapsePaleLeft, '#ace5f2', WHITE_EDGE),
    area(lapsePaleRight, '#ace5f2', WHITE_EDGE),
    area(lapseGreenPatch, '#68e88a'),
    area(lapseLeftBlue, '#5daeee', WHITE_EDGE),
    area(lapseLeftDeep, '#517ddf'),
    area(lapseLensMid, '#8dd6f1'),
    area(lapseLensPale, '#ace5f2', WHITE_EDGE),
    area(lapseGreenOuter, '#68e88a'),
    area(lapseGreenInner, '#50c060'),
    area(lapseTeal, '#4aae78'),
    area(lapseYellow, '#f8df00'),
    area(lapseAmber, '#ffc800'),
    area(lapseOrange, '#ffa500'),
    area(lapseLowBlue, '#5daeee', WHITE_EDGE),
    area(lapseLowDeep, '#517ddf'),
    area(lapseLowRoyal, '#2f5fd8', WHITE_EDGE),
    area(lapseLowNavy, '#1735c6'),
    area(lapseLowViolet, '#4a10c0'),
    area(lapseMainBlue, '#5daeee', WHITE_EDGE),
    area(lapseMainDeep, '#517ddf'),
    area(lapseMainRoyal, '#2f5fd8', WHITE_EDGE),
    area(lapseMainNavy, '#1735c6'),
    area(lapseTipMid, '#8dd6f1', WHITE_EDGE),
    area(lapseTipPale, '#ace5f2', WHITE_EDGE),
    area(lapseTipGreen, '#68e88a'),
    area(lapseTipGreenInner, '#50c060'),
    area(lapseStripDeep, '#517ddf'),
    stroke(lapseIsoline, '#ffffff', 2),
    stroke(rh20a, '#f4e43a', 2.5), stroke(rh20b, '#f4e43a', 2.5), stroke(rh20c, '#f4e43a', 2.5), stroke(rh20d, '#f4e43a', 2.5), stroke(rh20e, '#f4e43a', 2.5),
    stroke(rh40a, '#f5a623', 2.5), stroke(rh40b, '#f5a623', 2.5),
    stroke(rh50a, '#ee6a2a', 2.5), stroke(rh50b, '#ee6a2a', 2.5), stroke(rh50c, '#ee6a2a', 2.5), stroke(rh50d, '#ee6a2a', 2.5), stroke(rh50e, '#ee6a2a', 2.5),
    stroke(rh70a, '#e8352a', 2.5), stroke(rh70b, '#e8352a', 2.5), stroke(rh70c, '#e8352a', 2.5), stroke(rh70d, '#e8352a', 2.5), stroke(rh70e, '#e8352a', 2.5), stroke(rh70f, '#e8352a', 2.5), stroke(rh70g, '#e8352a', 2.5), stroke(rh70h, '#e8352a', 2.5), stroke(rh70i, '#e8352a', 2.5),
    stroke(rh80a, '#d63cc8', 2.5), stroke(rh80b, '#d63cc8', 2.5), stroke(rh80c, '#d63cc8', 2.5), stroke(rh80d, '#d63cc8', 2.5), stroke(rh80e, '#d63cc8', 2.5), stroke(rh80f, '#d63cc8', 2.5), stroke(rh80g, '#d63cc8', 2.5),
    stroke(rh90, '#9b30d0', 2.5),
    area(convectiveBlock, starFill),
    {type: 'line', data: pts(convectiveStars), showLine: false, pointStyle: starMarkCanvas, pointRadius: 7, yAxisID: 'yL'},
    area(cloudPatchA, hatchFill), area(cloudPatchB, hatchFill), area(cloudPatchC, hatchFill), area(cloudPatchD, hatchFill), area(cloudPatchE, hatchFill),
    stroke(cloudBase, '#000', 4),
    stroke(boundaryLayer, '#ffffff', 3.5)
  ])},
  options: {
    scales: {
      x: xAxis(true),
      yL: yAxis('left', 500, 1000, altitudeTicks, {reverse: true, grid: true, gridOnTop: true, format: v => altitudeLabels[altitudeTicks.indexOf(v)]}),
      yR: yAxis('right', 500, 1000, pressureTicks, {reverse: true})
    },
    plugins: {
      panelDecor: {hourGrid: true, nowLine: true},
      contourText: {sets: [{items: lapseWhiteLabels, color: '#ffffff'}, {items: rhLabels}]}
    }
  },
  plugins: [panelDecor, contourText]
});

// ---- horizontal wind and vertical shear
const SPEED_EDGE = 'rgba(25,35,70,0.8)';
panel(1828.8, 2462.6, {
  data: {datasets: painted([
    area([[0,500],[24,500],[24,1000],[0,1000]], '#4560d3'),
    area(windSpeedBandA, '#527de0', SPEED_EDGE),
    area(windSpeedBandB, '#6c9fe8', SPEED_EDGE),
    area(windSpeedBandC, '#7fbcf2', SPEED_EDGE),
    area(windSpeedCorner, '#527de0', SPEED_EDGE),
    area(windSpeedBandD, '#8dd6f1', SPEED_EDGE),
    area(windSpeedWedge, '#8dd6f1', SPEED_EDGE),
    area(windSpeedIsland, '#8dd6f1', SPEED_EDGE),
    area(windSpeedTopLeft, '#ace4f2', SPEED_EDGE),
    area(windSpeedTopRight, '#ace4f2', SPEED_EDGE),
    area(windCalmMain, '#3f41cb', SPEED_EDGE),
    area(windCalmMid, '#3f41cb', SPEED_EDGE),
    area(windCalmDot, '#3f41cb', SPEED_EDGE),
    area(windCalmRight, '#3f41cb', SPEED_EDGE),
    area(windRiseRight, '#527de0', SPEED_EDGE),
    area(windStillA, '#7048cf', SPEED_EDGE),
    area(windStillB, '#7048cf', SPEED_EDGE),
    area(windStillC, '#7048cf', SPEED_EDGE),
    stroke(shearLeftUpper, '#fdee3e', 3.5),
    stroke(shearLeftLower, '#fdee3e', 3.5),
    stroke(shearUpper, '#fdee3e', 3.5),
    stroke(shearLower, '#fdee3e', 3.5),
    stroke(shearLoop, '#fdee3e', 3.5),
    stroke(shearStrong, '#f2c438', 3.5),
    stroke(shearDotA, '#fdee3e', 4),
    stroke(shearDotB, '#fdee3e', 4)
  ])},
  options: {
    scales: {
      x: xAxis(true),
      yL: yAxis('left', 500, 1000, altitudeTicks, {reverse: true, grid: true, gridOnTop: true, format: v => altitudeLabels[altitudeTicks.indexOf(v)]}),
      yR: yAxis('right', 500, 1000, pressureTicks, {reverse: true})
    },
    plugins: {
      panelDecor: {hourGrid: true, nowLine: true, nowFrom: 1828.8 - (Math.floor(1828.8) - 40)},
      contourText: {sets: [{items: speedLabels, color: '#000', size: 15}, {items: shearLabels}]}
    }
  },
  plugins: [panelDecor, windBarbs, contourText]
});

// ---- page text
text('46.75\u00b0N, 13.19\u00b0E (591 m asl)', 46, 75, {size: 22});
text('meteoblue', 1871, 41, {size: 46, color: '#174a6d', weight: 600, font: '"Open Sans", sans-serif'});
text('\u00ae', 2079, 29, {size: 9, color: '#174a6d'});
text('Surface conditions', 1124, 109, {anchor: 'c', size: 21});
text('Fri 26.06', 1124, 137, {anchor: 'c', size: 20});
text('Wind 80 m', 201, 167, {anchor: 'r', size: 22, color: '#7fb31d'});
text('Wind 10 m', 201, 199, {anchor: 'r', size: 22, color: '#267344'});
text('Gust', 174, 227, {anchor: 'r', size: 22, color: '#1e90ff'});
text('(m/s)', 167, 266, {anchor: 'r', size: 22});
text('Temperature (\u00b0C)', 121, 429, {rot: -90, size: 22});
text('Precipitation (mm/h)', 2083, 428, {rot: -90, size: 22, color: '#1464f0'});

box(229, 523, 44, 4, {background: '#ff0000'});
text('2m Temperature', 288, 525, {size: 18});
box(493, 523, 43, 3, {background: '#a52a2a'});
text('2m Dew point temp.', 550, 525, {size: 18});
box(1666, 516, 39, 14, {background: '#0a50f0'});
text('Precipitation', 1717, 524, {size: 18});
box(1856, 516, 40, 14, {background: '#0fd9c6'});
text('Showers', 1906, 524, {size: 18});

text('Stability indices', 1124, 583, {anchor: 'c', size: 21});
box(PLOT_LEFT, 605.3, PLOT_RIGHT - PLOT_LEFT, 53, {border: '1.5px solid #222'});
text('Max. height', 229, 631, {anchor: 'r', size: 22});
text('Thermal index', 230, 695, {anchor: 'r', size: 22});
text('dry thermals: 2609 m / 8562 ft', 1124, 620, {anchor: 'c', size: 20});
text('soaring: 1978 m / 6491 ft', 1124, 643, {anchor: 'c', size: 20});
text('hPa', 2084, 710, {rot: -90, size: 22});
text('Updraft velocity', 49, 864, {rot: -90, size: 22});
text('(m/s)', 81, 864, {rot: -90, size: 22});
text('CAPE (J/kg)', 116, 861, {rot: -90, size: 22, color: '#3b3bf0'});
text('Soaring index', 2114, 863, {rot: -90, size: 22, color: '#e56cc7'});
text('Lifted index', 2144, 863, {rot: -90, size: 22, color: '#ff0000'});
text('Thermals', 213, 1008, {anchor: 'r', size: 18});
cellLegend(240.6, 995.3, 529.4, 19, thermalClasses, thermalClassColors, 18, true);
text('Soaring conditions', 1265, 1008, {size: 18});
cellLegend(1479, 996.3, 530, 19, soaringClasses, soaringBandColors, 18, true);

text('Lapse rate / Humidity / Clouds', 1124, 1063, {anchor: 'c', size: 21});
text('Altitude approx.', 121, 1368, {rot: -90, size: 22});
text('Pressure (hPa)', 2084, 1354, {rot: -90, size: 22});
box(241, 1746, 39, 7, {background: '#000'});
text('Convective cloud base', 296, 1750, {size: 18});
box(563.5, 1746, 40.5, 8, {background: '#fff', border: '1.5px solid #222'});
text('Boundary layer height', 620, 1750, {size: 18});
text('Rel. Humidity (%): colored lines', 939, 1750, {size: 18});
text('Convective clouds', 1415, 1751, {size: 18});
box(1603, 1743, 88, 14, {backgroundImage: 'url(' + starCanvas.toDataURL() + ')', border: '1.5px solid #222'});
text('Cloud cover', 1797, 1751, {size: 18});
box(1920, 1743, 89, 14, {backgroundImage: 'url(' + hatchCanvas.toDataURL() + ')', border: '1.5px solid #222'});

text('Horizontal wind / Vertical wind shear', 1124, 1813, {anchor: 'c', size: 21});
text('Altitude approx.', 121, 2147, {rot: -90, size: 22});
text('Pressure (hPa)', 2084, 2147, {rot: -90, size: 22});
text('Last update: 2026-06-26 11:37', 43, 2505, {size: 20, color: '#888'});
text('Wind shear (m/s per 100 m)', 1356, 2506, {size: 18});
cellLegend(1655, 2493, 354, 18, shearClasses, shearClassColors, 18, false);
</script>
</body>
</html>
